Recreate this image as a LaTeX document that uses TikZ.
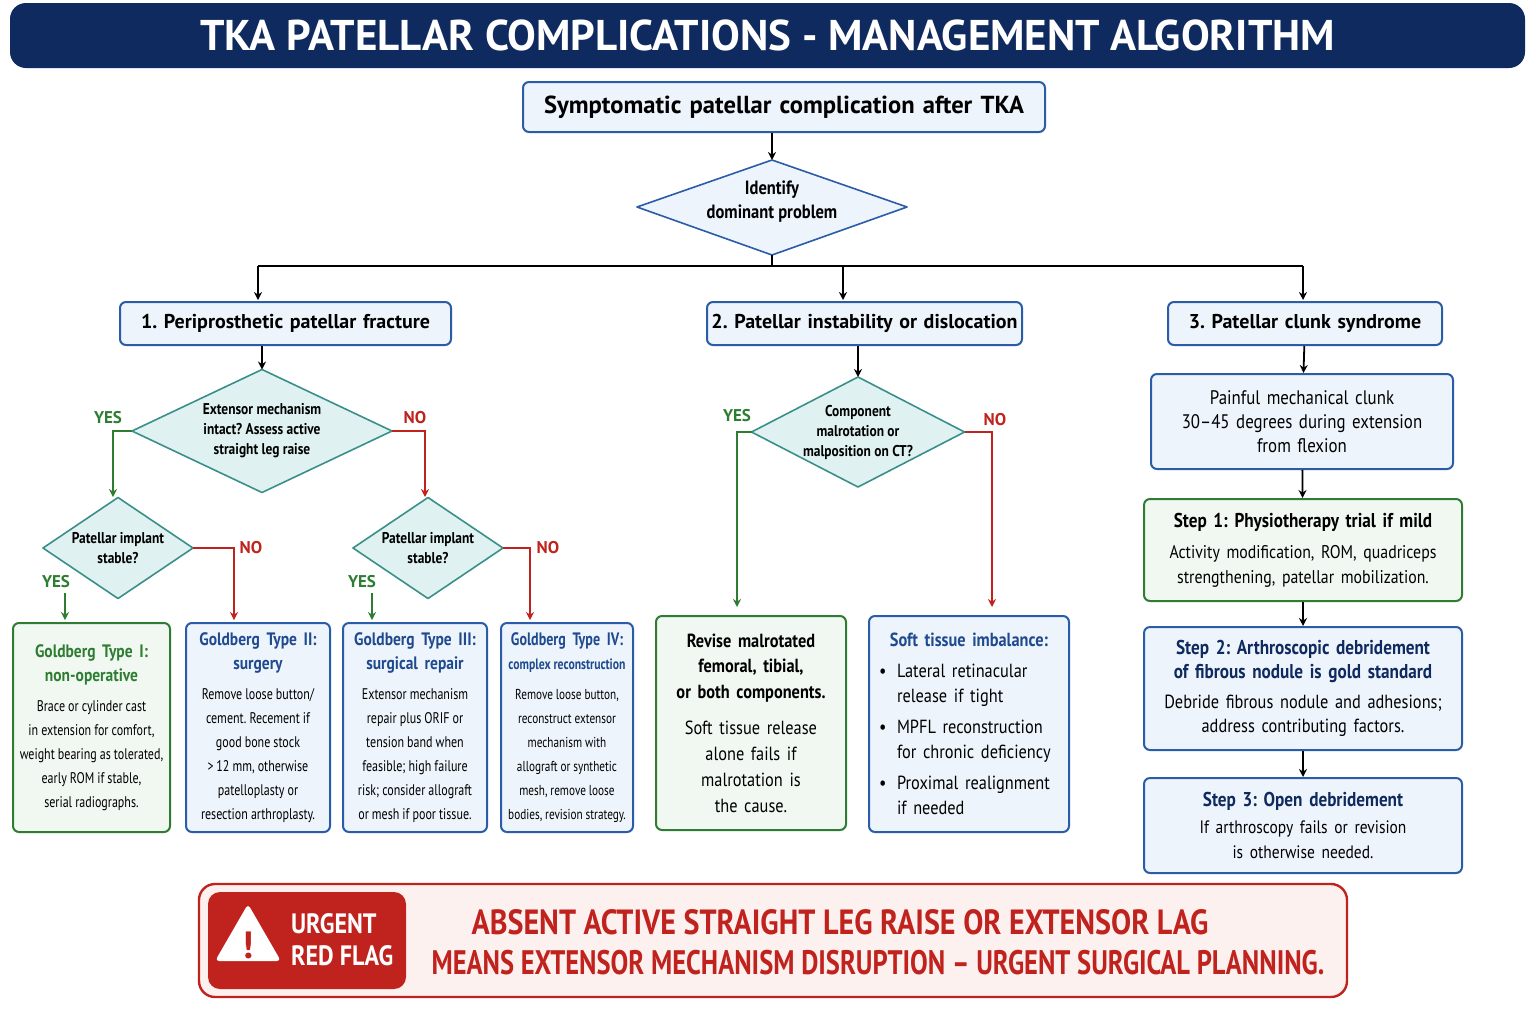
\documentclass[tikz,border=0pt]{standalone}
\usepackage{fontspec}
\setmainfont{PT Sans}
\newfontfamily\cond{PT Sans}[FakeStretch=0.86]
\newfontfamily\ccond{PT Sans}[FakeStretch=0.78]
\usetikzlibrary{shapes.geometric,arrows.meta}
\definecolor{navy}{HTML}{0F2A5E}
\definecolor{bblue}{HTML}{2A5CA8}
\definecolor{tblue}{HTML}{1F4A8F}
\definecolor{lblue}{HTML}{EEF4FC}
\definecolor{dgreen}{HTML}{2E7D32}
\definecolor{lgreen}{HTML}{F1F8F1}
\definecolor{teal}{HTML}{3A8F8A}
\definecolor{lteal}{HTML}{DFF2F1}
\definecolor{dred}{HTML}{C0231E}
\definecolor{lred}{HTML}{FDF1F0}
\frenchspacing
\newcommand\smf{\ccond\fontsize{7.7}{12}\selectfont\spaceskip=0.2em}
\newcommand\bx[7][]{\pgfmathsetmacro\bw{(#4-#2)*0.5}\pgfmathsetmacro\bh{(#5-#3)*0.5}\pgfmathsetmacro\tw{\bw-2}%
\node[#1, minimum width=\bw pt, minimum height=\bh pt, text width=\tw pt] (#6) at ({(#2+#4)/2},{(#3+#5)/2}) {\centering\hyphenpenalty=10000 #7};}
\newcommand\dmd[7][]{\draw[diaS,#1] ({#3-#5/2},#4) -- (#3,{#4-#6/2}) -- ({#3+#5/2},#4) -- (#3,{#4+#6/2}) -- cycle;
\node[diaT] (#2) at (#3,#4) {#7};
\coordinate (#2-w) at ({#3-#5/2},#4); \coordinate (#2-e) at ({#3+#5/2},#4);
\coordinate (#2-n) at (#3,{#4-#6/2}); \coordinate (#2-s) at (#3,{#4+#6/2});}
\tikzset{
 bbox/.style={draw=bblue,fill=lblue,line width=1pt,rounded corners=3pt,align=center,inner sep=0pt},
 gbox/.style={draw=dgreen,fill=lgreen,line width=1pt,rounded corners=3pt,align=center,inner sep=0pt},
 diaS/.style={draw=teal,fill=lteal,line width=0.8pt,line join=round},
 diaT/.style={inner sep=0pt,align=center,font=\cond\bfseries\fontsize{7.8}{10}\selectfont},
 hdr/.style={bbox,font=\bfseries\fontsize{10}{13}\selectfont},
 arr/.style={-{Stealth[length=4pt,width=4pt]},line width=0.9pt},
 yes/.style={text=dgreen,font=\bfseries\fontsize{8.5}{10}\selectfont},
 no/.style={text=dred,font=\bfseries\fontsize{8.5}{10}\selectfont},
 gl/.style={draw=dgreen,line width=0.9pt},
 rl/.style={draw=dred,line width=0.9pt},
}
\begin{document}
\begin{tikzpicture}[x=0.5pt,y=-0.5pt]
\useasboundingbox[fill=white] (0,0) rectangle (1536,1024);
% title
\node[fill=navy,rounded corners=8pt,minimum width=757.5pt,minimum height=32.5pt,text=white,font=\bfseries\fontsize{21.5}{24}\selectfont] (title) at (767.5,35.5) {TKA PATELLAR COMPLICATIONS - MANAGEMENT ALGORITHM};
\bx[bbox,font=\bfseries\fontsize{12.3}{14}\selectfont]{523}{82}{1045}{132}{top}{Symptomatic patellar complication after TKA}
\draw[diaS,draw=bblue,fill=lblue] (637,207) -- (772,160) -- (907,207) -- (772,255) -- cycle;
\node[inner sep=0pt,align=center,font=\cond\bfseries\fontsize{9.6}{12}\selectfont] (d0) at (772,202) {Identify\\dominant problem};
\coordinate (d0-n) at (772,160); \coordinate (d0-s) at (772,255);
\draw[arr] (d0-n |- top.south) -- (d0-n);
\bx[hdr]{120}{302}{451}{345}{b1}{1. Periprosthetic patellar fracture}
\bx[hdr]{707}{302}{1022}{345}{b2}{2. Patellar instability or dislocation}
\bx[hdr]{1168}{302}{1442}{345}{b3}{3. Patellar clunk syndrome}
\coordinate (j) at (772,266);
\draw[line width=0.9pt] (d0-s) -- (j);
\draw[line width=0.9pt] (258,266) -- (1303,266);
\draw[arr] (258,266) -- (258,300);
\draw[arr] (843,266) -- (843,300);
\draw[arr] (1303,266) -- (1303,300);
% branch 1
\dmd{dA}{262}{431}{260}{123}{Extensor mechanism\\intact? Assess active\\straight leg raise}
\draw[arr] (dA-n |- b1.south) -- (dA-n);
\dmd{dB1}{118}{548}{150}{101}{Patellar implant\\stable?}
\dmd{dB2}{428}{548}{150}{101}{Patellar implant\\stable?}
\draw[gl,arr] (dA-w) -- (113,431) -- (113,497);
\draw[rl,arr] (dA-e) -- (425,431) -- (425,497);
\node[yes] at (108,418) {YES};
\node[no] at (415,418) {NO};
\bx[gbox]{13}{623}{170}{832}{g1}{{\cond\bfseries\fontsize{9}{12}\selectfont\color{dgreen}Goldberg Type I:\\non-operative\par}\vspace{3pt}{\smf Brace or cylinder cast\\in extension for comfort,\\weight bearing as tolerated,\\early ROM if stable,\\serial radiographs.\par}}
\bx[bbox]{186}{623}{330}{832}{g2}{{\cond\bfseries\fontsize{9}{12}\selectfont\color{tblue}Goldberg Type II:\\surgery\par}\vspace{3pt}{\smf Remove loose button/\\cement. Recement if\\good bone stock\\>\,12 mm, otherwise\\patelloplasty or\\resection arthroplasty.\par}}
\bx[bbox]{343}{623}{487}{832}{g3}{{\cond\bfseries\fontsize{9}{12}\selectfont\color{tblue}Goldberg Type III:\\surgical repair\par}\vspace{3pt}{\smf Extensor mechanism\\repair plus ORIF or\\tension band when\\feasible; high failure\\risk; consider allograft\\or mesh if poor tissue.\par}}
\bx[bbox]{501}{623}{633}{832}{g4}{{\ccond\bfseries\fontsize{9}{12}\selectfont\color{tblue}Goldberg Type IV:\\{\fontsize{7.5}{12}\selectfont\spaceskip=0.2em complex reconstruction}\par}\vspace{3pt}{\ccond\fontsize{7.2}{12}\selectfont\spaceskip=0.2em Remove loose button,\\reconstruct extensor\\mechanism with\\allograft or synthetic\\mesh, remove loose\\bodies, revision strategy.\par}}
\coordinate (y1) at (65,593);
\draw[gl,arr] (y1) -- (65,620);
\node[yes] at (56,582) {YES};
\draw[rl,arr] (dB1-e) -- (234,548) -- (234,620);
\node[no] at (251,548) {NO};
\coordinate (y2) at (372,593);
\draw[gl,arr] (y2) -- (372,620);
\node[yes] at (362,582) {YES};
\draw[rl,arr] (dB2-e) -- (530,548) -- (530,620);
\node[no] at (548,548) {NO};
% branch 2
\dmd{dC}{858}{432}{213}{110}{Component\\malrotation or\\malposition on CT?}
\draw[arr] (dC-n |- b2.south) -- (dC-n);
\bx[gbox]{656}{616}{846}{830}{r1}{{\cond\bfseries\fontsize{9.5}{12.8}\selectfont Revise malrotated\\femoral, tibial,\\or both components.\par}\vspace{5pt}{\cond\fontsize{9.5}{13}\selectfont Soft tissue release\\alone fails if\\malrotation is\\the cause.\par}}
\bx[bbox]{869}{616}{1069}{832}{r2}{{\cond\bfseries\fontsize{9.5}{12}\selectfont\color{tblue}Soft tissue imbalance:\par}\vspace{3pt}{\raggedright\cond\fontsize{9.5}{12.5}\selectfont\leftskip=4pt
\makebox[9pt][l]{•}Lateral retinacular\\\hspace*{9pt}release if tight\\[3pt]
\makebox[9pt][l]{•}MPFL reconstruction\\\hspace*{9pt}for chronic deficiency\\[3pt]
\makebox[9pt][l]{•}Proximal realignment\\\hspace*{9pt}if needed\par}}
\draw[gl,arr] (dC-w) -- (737,432) -- (737,607);
\node[yes] at (737,416) {YES};
\draw[rl,arr] (dC-e) -- (992,432) -- (992,607);
\node[no] at (995,420) {NO};
% branch 3
\bx[bbox,font=\cond\fontsize{9.8}{12}\selectfont]{1151}{374}{1453}{469}{c1}{Painful mechanical clunk\\30–45 degrees during extension\\from flexion}
\bx[gbox]{1144}{499}{1462}{601}{s1}{{\cond\bfseries\fontsize{10}{12}\selectfont Step 1: Physiotherapy trial if mild\par}\vspace{3pt}{\cond\fontsize{9.2}{12.5}\selectfont Activity modification, ROM, quadriceps\\strengthening, patellar mobilization.\par}}
\bx[bbox]{1144}{627}{1462}{750}{s2}{{\cond\bfseries\fontsize{10}{12}\selectfont\color{navy}Step 2: Arthroscopic debridement\\of fibrous nodule is gold standard\par}\vspace{3pt}{\cond\fontsize{9.5}{12}\selectfont Debride fibrous nodule and adhesions;\\address contributing factors.\par}}
\bx[bbox]{1144}{778}{1462}{873}{s3}{{\cond\bfseries\fontsize{10}{12}\selectfont\color{navy}Step 3: Open debridement\par}\vspace{1pt}{\cond\fontsize{9}{12.5}\selectfont If arthroscopy fails or revision\\is otherwise needed.\par}}
\draw[arr] (b3) -- (c1);
\draw[arr] (c1) -- (s1);
\draw[arr] (s1) -- (s2);
\draw[arr] (s2) -- (s3);
% red banner
\node[draw=dred,fill=lred,line width=1.2pt,rounded corners=8pt,minimum width=574pt,minimum height=56.5pt] (ban) at (773,940.5) {};
\node[fill=dred,rounded corners=6pt,minimum width=99pt,minimum height=48.5pt] (flag) at (307,940.5) {};
\node[fill=white,regular polygon,regular polygon sides=3,minimum size=38pt,inner sep=0pt,rounded corners=2pt] (tri) at (248,942) {};
\node[text=dred,font=\bfseries\fontsize{19}{20}\selectfont] (ex) at (248,945) {!};
\node[text=white,align=left,font=\cond\bfseries\fontsize{14}{16}\selectfont,anchor=west] (ut) at (284,940) {URGENT\\RED FLAG};
\node[text=dred,font=\cond\bfseries\fontsize{17.5}{20}\selectfont] (bt1) at (840,922) {ABSENT ACTIVE STRAIGHT LEG RAISE OR EXTENSOR LAG};
\node[text=dred,font=\ccond\bfseries\fontsize{17}{20}\selectfont] (bt2) at (878,963) {MEANS EXTENSOR MECHANISM DISRUPTION – URGENT SURGICAL PLANNING.};
\end{tikzpicture}
\end{document}
